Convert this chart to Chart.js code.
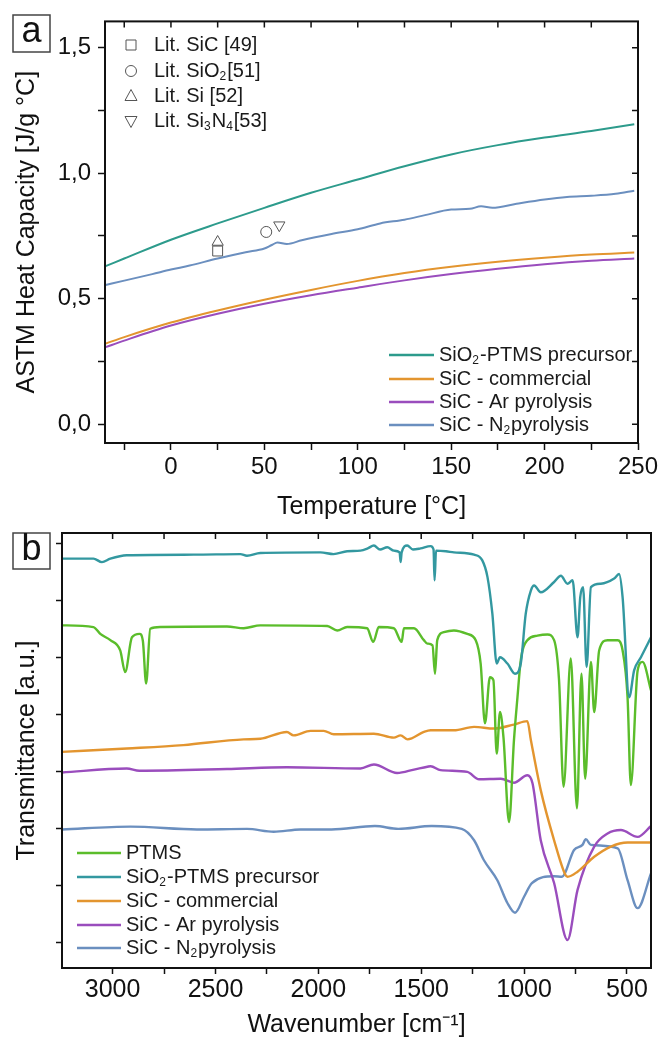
<!DOCTYPE html>
<html>
<head>
<meta charset="utf-8">
<script src="https://cdn.jsdelivr.net/npm/chart.js@4.4.1/dist/chart.umd.min.js"></script>
<style>
html, body { margin: 0; padding: 0; background: #fff; }
#wrap { position: relative; width: 662px; height: 1039px; }
canvas { position: absolute; left: 0; }
#cpChart { top: 0; }
#irChart { top: 520px; }
</style>
</head>
<body>
<div id="wrap">
    <canvas id="cpChart" width="662" height="520"></canvas>
    <canvas id="irChart" width="662" height="519"></canvas>
</div>
<script>
// ---------- panel a : heat capacity ----------
const tempC     = [-35, -25, 0, 25, 50, 75, 100, 125, 150, 175, 200, 225, 248];
const cpSio2    = [0.63, 0.66, 0.735, 0.80, 0.862, 0.922, 0.975, 1.028, 1.075, 1.112, 1.142, 1.168, 1.195];
const cpComm    = [0.321, 0.347, 0.405, 0.453, 0.496, 0.535, 0.571, 0.602, 0.627, 0.647, 0.663, 0.676, 0.684];
const cpAr      = [0.307, 0.333, 0.393, 0.44, 0.48, 0.514, 0.544, 0.573, 0.598, 0.619, 0.637, 0.651, 0.66];
const n2Temp    = [-35, -25, -10, 0, 10, 25, 40, 50, 54, 57, 62, 70, 86, 100, 112, 125, 136, 150, 160, 166, 172, 185, 200, 212, 225, 238, 248];
const cpN2      = [0.555, 0.572, 0.598, 0.616, 0.632, 0.66, 0.685, 0.70, 0.714, 0.724, 0.718, 0.733, 0.758, 0.777, 0.80, 0.815, 0.833, 0.855, 0.858, 0.868, 0.862, 0.878, 0.895, 0.905, 0.91, 0.918, 0.93];

const litNames  = ['Lit. SiC [49]', 'Lit. SiO_2[51]', 'Lit. Si [52]', 'Lit. Si_3N_4[53]'];
const litTemp   = [25, 51, 25, 58];
const litCp     = [0.69, 0.766, 0.726, 0.793];

const cpNames   = ['SiO_2-PTMS precursor', 'SiC - commercial', 'SiC - Ar pyrolysis', 'SiC - N_2pyrolysis'];

// ---------- panel b : FTIR ----------
const ptmsWn = [3246, 3093, 3060, 3011, 2963, 2939, 2906, 2869, 2853, 2837, 2817, 2768, 2444, 2363, 2282, 1957, 1908, 1860, 1763, 1733, 1706, 1633, 1595, 1584, 1535, 1487, 1470, 1445, 1433, 1422, 1390, 1341, 1276, 1235, 1211, 1190, 1166, 1149, 1133, 1117, 1100, 1073, 1049, 1032, 1016, 984, 935, 886, 854, 830, 808, 773, 743, 721, 703, 675, 659, 635, 594, 545, 521, 497, 481, 448, 424, 383];
const ptmsT  = [5.57, 5.54, 5.42, 5.31, 5.13, 4.75, 5.36, 5.42, 5.30, 4.55, 5.51, 5.54, 5.55, 5.52, 5.57, 5.56, 5.48, 5.54, 5.52, 5.28, 5.54, 5.52, 5.28, 5.52, 5.52, 5.31, 5.25, 5.22, 4.72, 5.31, 5.45, 5.48, 5.42, 5.31, 4.90, 3.85, 4.66, 4.61, 3.32, 4.05, 3.60, 2.12, 3.56, 4.31, 4.96, 5.31, 5.39, 5.41, 5.31, 4.61, 2.74, 4.99, 2.36, 4.72, 2.88, 4.93, 4.05, 5.13, 5.31, 5.31, 5.13, 4.31, 2.77, 4.78, 4.93, 4.43];

const sio2Wn = [3246, 3093, 3052, 3011, 2931, 2606, 2379, 2347, 2282, 1990, 1926, 1860, 1795, 1760, 1730, 1700, 1665, 1633, 1605, 1600, 1595, 1568, 1540, 1503, 1454, 1440, 1435, 1428, 1380, 1341, 1243, 1203, 1178, 1154, 1133, 1117, 1081, 1044, 1016, 992, 967, 951, 919, 854, 821, 789, 764, 740, 727, 713, 696, 675, 627, 562, 538, 521, 489, 465, 432, 383];
const sio2T  = [6.74, 6.74, 6.68, 6.74, 6.80, 6.81, 6.82, 6.79, 6.84, 6.85, 6.82, 6.87, 6.88, 6.92, 6.97, 6.90, 6.94, 6.88, 6.85, 6.68, 6.85, 6.97, 6.90, 6.92, 6.96, 6.90, 6.36, 6.88, 6.87, 6.85, 6.81, 6.71, 6.42, 5.77, 4.90, 5.01, 4.90, 4.72, 4.90, 5.77, 6.18, 6.27, 6.15, 6.33, 6.44, 6.30, 6.36, 5.36, 6.06, 6.24, 4.84, 6.24, 6.30, 6.39, 6.47, 6.06, 4.31, 4.78, 5.01, 5.36];

const commWn = [3246, 2931, 2656, 2363, 2282, 2153, 2120, 2038, 1974, 1925, 1730, 1633, 1600, 1566, 1487, 1454, 1341, 1243, 1146, 1050, 984, 967, 919, 854, 800, 789, 740, 659, 578, 497, 383];
const commT  = [3.35, 3.41, 3.47, 3.57, 3.58, 3.70, 3.64, 3.72, 3.72, 3.66, 3.67, 3.60, 3.64, 3.57, 3.70, 3.73, 3.73, 3.79, 3.76, 3.83, 3.89, 3.56, 2.68, 1.80, 1.20, 1.16, 1.25, 1.51, 1.69, 1.76, 1.76];

const arWn = [3246, 2931, 2870, 2444, 2153, 1795, 1730, 1617, 1535, 1470, 1454, 1406, 1276, 1219, 1113, 1049, 984, 959, 919, 854, 789, 740, 659, 594, 529, 448, 383];
const arT  = [2.99, 3.06, 3.02, 3.05, 3.08, 3.06, 3.13, 2.98, 3.04, 3.09, 3.10, 3.03, 3.00, 2.87, 2.88, 2.81, 2.94, 2.80, 1.80, 1.05, 0.05, 0.93, 1.69, 1.92, 1.98, 1.86, 2.05];

const n2Wn = [3246, 2913, 2590, 2347, 2217, 2087, 1936, 1725, 1611, 1449, 1303, 1243, 1195, 1130, 1081, 1044, 1000, 962, 854, 816, 757, 716, 700, 675, 545, 497, 448, 383];
const n2T  = [1.99, 2.04, 1.99, 2.00, 1.95, 1.99, 1.99, 2.05, 2.00, 2.05, 2.00, 1.80, 1.45, 1.10, 0.70, 0.53, 0.81, 1.05, 1.17, 1.16, 1.63, 1.72, 1.82, 1.72, 1.66, 1.10, 0.61, 1.22];

const irNames = ['PTMS', 'SiO_2-PTMS precursor', 'SiC - commercial', 'SiC - Ar pyrolysis', 'SiC - N_2pyrolysis'];

// ---------- colours ----------
const cTeal   = '#2d9b8c';
const cTealB  = '#3398a0';
const cOrange = '#e3952f';
const cPurple = '#9a4dbd';
const cBlue   = '#6b8fbf';
const cGreen  = '#5bbd2b';

const FAMILY = "'Liberation Sans', Arial, sans-serif";
Chart.defaults.font.family = FAMILY;
Chart.defaults.color = '#111';

function xy(xs, ys) {
    return xs.map(function(x, i) { return { x: x, y: ys[i] }; });
}

// text with "_2" style subscripts
function drawRich(ctx, str, x, y, size) {
    const parts = str.split(/_(\d)/);
    let cx = x;
    parts.forEach(function(p, i) {
        if (!p) return;
        const sub = i % 2 === 1;
        ctx.font = (sub ? Math.round(size * 0.6) : size) + 'px ' + FAMILY;
        ctx.fillText(p, cx, sub ? y + size * 0.3 : y);
        cx += ctx.measureText(p).width + (sub ? 1 : 0);
    });
}

function drawMarker(ctx, style, x, y) {
    ctx.beginPath();
    if (style === 'rect') {
        ctx.rect(x - 5, y - 5, 10, 10);
    } else if (style === 'circle') {
        ctx.arc(x, y, 5.5, 0, Math.PI * 2);
    } else if (style === 'up') {
        ctx.moveTo(x, y - 6.5); ctx.lineTo(x + 6, y + 4.5); ctx.lineTo(x - 6, y + 4.5); ctx.closePath();
    } else {
        ctx.moveTo(x, y + 6.5); ctx.lineTo(x + 6, y - 4.5); ctx.lineTo(x - 6, y - 4.5); ctx.closePath();
    }
    ctx.fillStyle = '#fff';
    ctx.fill();
    ctx.stroke();
}

// frame, mirrored ticks, panel letter and legends
const framePlugin = {
    id: 'frame',
    afterDraw: function(chart, args, opts) {
        const ctx = chart.ctx, a = chart.chartArea;
        const xs = chart.scales.x, ys = chart.scales.y;
        ctx.save();
        ctx.strokeStyle = '#111';
        ctx.lineWidth = 1.5;
        ctx.beginPath();
        xs.ticks.forEach(function(t) {
            const px = xs.getPixelForValue(t.value);
            ctx.moveTo(px, a.top);
            ctx.lineTo(px, a.top + opts.tick);
        });
        if (opts.rightTicks) {
            ys.ticks.forEach(function(t) {
                const py = ys.getPixelForValue(t.value);
                ctx.moveTo(a.right, py);
                ctx.lineTo(a.right - opts.tick, py);
            });
        }
        ctx.stroke();
        ctx.lineWidth = 2;
        ctx.strokeRect(a.left, a.top, a.right - a.left, a.bottom - a.top);

        // panel letter
        const b = opts.box;
        ctx.lineWidth = 1.5;
        ctx.strokeStyle = '#444';
        ctx.strokeRect(b[0], b[1], b[2], b[3]);
        ctx.fillStyle = '#111';
        ctx.font = '36px ' + FAMILY;
        ctx.textAlign = 'center';
        ctx.textBaseline = 'middle';
        ctx.fillText(opts.letter, b[0] + b[2] / 2, b[1] + b[3] / 2 - 1);

        // line legend
        ctx.textAlign = 'left';
        const lg = opts.legend;
        lg.names.forEach(function(name, i) {
            const y = lg.ys[i];
            ctx.strokeStyle = lg.colors[i];
            ctx.lineWidth = 2.5;
            ctx.beginPath();
            ctx.moveTo(lg.x0, y);
            ctx.lineTo(lg.x1, y);
            ctx.stroke();
            ctx.fillStyle = '#1a1a1a';
            drawRich(ctx, name, lg.tx, y, 20);
        });

        // marker legend
        if (opts.markers) {
            const mk = opts.markers;
            ctx.strokeStyle = '#555';
            ctx.lineWidth = 1;
            mk.names.forEach(function(name, i) {
                drawMarker(ctx, mk.styles[i], mk.x, mk.ys[i]);
                ctx.fillStyle = '#1a1a1a';
                drawRich(ctx, name, mk.tx, mk.ys[i], 20);
            });
        }
        ctx.restore();
    }
};

function lineSet(data, color, width) {
    return {
        data: data,
        borderColor: color,
        backgroundColor: color,
        borderWidth: width,
        pointRadius: 0,
        fill: false,
        cubicInterpolationMode: 'monotone'
    };
}

function litSet(i, style, rotation, radius) {
    return {
        data: [{ x: litTemp[i], y: litCp[i] }],
        showLine: false,
        pointStyle: style,
        rotation: rotation,
        pointRadius: radius,
        pointBorderWidth: 1,
        pointBorderColor: '#555',
        pointBackgroundColor: '#fff'
    };
}

const tickGrid = function(len) {
    return {
        display: true,
        drawOnChartArea: false,
        drawTicks: true,
        tickLength: len,
        tickWidth: 1.5,
        tickColor: '#111'
    };
};

// ---------- chart a ----------
new Chart(document.getElementById('cpChart'), {
    type: 'line',
    data: {
        datasets: [
            lineSet(xy(tempC, cpSio2), cTeal, 2),
            lineSet(xy(tempC, cpComm), cOrange, 2),
            lineSet(xy(tempC, cpAr), cPurple, 2),
            lineSet(xy(n2Temp, cpN2), cBlue, 2),
            litSet(0, 'rect', 0, 7),
            litSet(1, 'circle', 0, 5.5),
            litSet(2, 'triangle', 0, 6.5),
            litSet(3, 'triangle', 180, 6.5)
        ]
    },
    options: {
        responsive: false,
        animation: false,
        layout: { padding: { left: 0, top: 15, right: 24, bottom: 0 } },
        plugins: {
            legend: { display: false },
            tooltip: { enabled: false },
            frame: {
                tick: 6,
                rightTicks: true,
                letter: 'a',
                box: [13, 15, 37, 37],
                legend: {
                    names: cpNames,
                    colors: [cTeal, cOrange, cPurple, cBlue],
                    x0: 389, x1: 434, tx: 439,
                    ys: [355, 379, 402, 425]
                },
                markers: {
                    names: litNames,
                    styles: ['rect', 'circle', 'up', 'down'],
                    x: 131, tx: 154,
                    ys: [45, 71, 96, 121]
                }
            }
        },
        scales: {
            x: {
                type: 'linear',
                min: -35.3,
                max: 250,
                border: { display: false },
                grid: tickGrid(7),
                afterFit: function(s) { s.height = 77; },
                ticks: {
                    stepSize: 25,
                    includeBounds: false,
                    maxRotation: 0,
                    autoSkip: false,
                    padding: 3,
                    font: { size: 24 },
                    color: '#111',
                    callback: function(v) { return v % 50 === 0 ? String(v) : ''; }
                },
                title: {
                    display: true,
                    text: 'Temperature [°C]',
                    font: { size: 25, lineHeight: 1 },
                    color: '#111',
                    padding: { top: 0, bottom: 0 }
                }
            },
            y: {
                type: 'linear',
                min: -0.075,
                max: 1.605,
                border: { display: false },
                grid: tickGrid(7),
                afterFit: function(s) { s.width = 105; },
                ticks: {
                    stepSize: 0.25,
                    includeBounds: false,
                    autoSkip: false,
                    padding: 7,
                    font: { size: 24 },
                    color: '#111',
                    callback: function(v) {
                        const h = v * 2;
                        return Math.abs(h - Math.round(h)) < 1e-6 ? v.toFixed(1).replace('.', ',') : '';
                    }
                },
                title: {
                    display: true,
                    text: 'ASTM Heat Capacity [J/g °C]',
                    font: { size: 25 },
                    color: '#111',
                    padding: { top: 12, bottom: 0 }
                }
            }
        }
    },
    plugins: [framePlugin]
});

// ---------- chart b ----------
new Chart(document.getElementById('irChart'), {
    type: 'line',
    data: {
        datasets: [
            lineSet(xy(sio2Wn, sio2T), cTealB, 2.4),
            lineSet(xy(ptmsWn, ptmsT), cGreen, 2.4),
            lineSet(xy(commWn, commT), cOrange, 2.4),
            lineSet(xy(arWn, arT), cPurple, 2.4),
            lineSet(xy(n2Wn, n2T), cBlue, 2.4)
        ]
    },
    options: {
        responsive: false,
        animation: false,
        layout: { padding: { left: 0, top: 13, right: 11, bottom: 0 } },
        plugins: {
            legend: { display: false },
            tooltip: { enabled: false },
            frame: {
                tick: 6,
                rightTicks: false,
                letter: 'b',
                box: [13, 13, 37, 36],
                legend: {
                    names: irNames,
                    colors: [cGreen, cTealB, cOrange, cPurple, cBlue],
                    x0: 77, x1: 121, tx: 126,
                    ys: [333, 357, 381, 405, 428]
                }
            }
        },
        scales: {
            x: {
                type: 'linear',
                reverse: true,
                min: 383,
                max: 3246,
                border: { display: false },
                grid: tickGrid(6),
                afterFit: function(s) { s.height = 71; },
                ticks: {
                    stepSize: 250,
                    includeBounds: false,
                    maxRotation: 0,
                    autoSkip: false,
                    padding: 1,
                    font: { size: 25 },
                    color: '#111',
                    callback: function(v) { return v % 500 === 0 ? String(v) : ''; }
                },
                title: {
                    display: true,
                    text: 'Wavenumber [cm⁻¹]',
                    font: { size: 25, lineHeight: 1 },
                    color: '#111',
                    padding: { top: 0, bottom: 1 }
                }
            },
            y: {
                type: 'linear',
                min: -0.44,
                max: 7.19,
                border: { display: false },
                grid: tickGrid(6),
                afterFit: function(s) { s.width = 62; },
                ticks: {
                    stepSize: 1,
                    includeBounds: false,
                    autoSkip: false,
                    callback: function() { return ''; }
                },
                title: {
                    display: true,
                    text: 'Transmittance [a.u.]',
                    font: { size: 25 },
                    color: '#111',
                    padding: { top: 12, bottom: 0 }
                }
            }
        }
    },
    plugins: [framePlugin]
});
</script>
</body>
</html>
